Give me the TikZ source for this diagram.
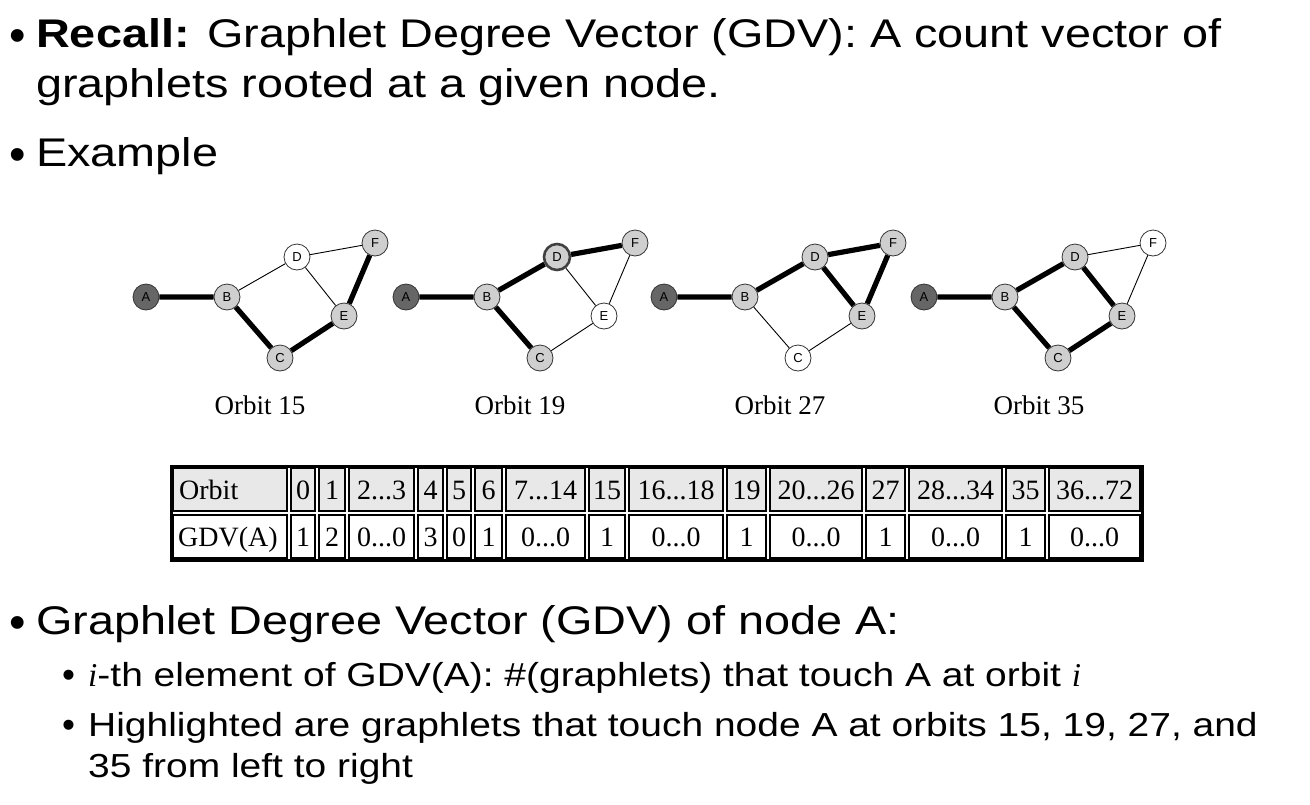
\documentclass[tikz,border=0pt]{standalone}
\usepackage{fontspec}
\setmainfont{Liberation Sans}[FakeStretch=1.17]
\newfontfamily\tabfont{Liberation Serif}
\newfontfamily\gfont{Liberation Sans}
\newcommand\mydots{...}
\newcommand\myi{{\tabfont\itshape i}}
\begin{document}
\begin{tikzpicture}[x=1pt,y=-1pt,
  txt/.style={anchor=base west,inner sep=0pt,font=\fontsize{40}{48}\selectfont},
  subtxt/.style={anchor=base west,inner sep=0pt,font=\fontsize{33.3}{40}\selectfont},
  bul/.style={anchor=base west,inner sep=0pt,font=\gfont\fontsize{47}{47}\selectfont},
  sbul/.style={anchor=base west,inner sep=0pt,font=\gfont\fontsize{37}{37}\selectfont},
  gn/.style={circle,draw=black!80,line width=0.8pt,minimum size=26pt,inner sep=0pt,font=\gfont\fontsize{13}{13}\selectfont},
  dk/.style={gn,fill=black!60},
  lt/.style={gn,fill=black!19},
  wt/.style={gn,fill=white},
  hl/.style={line width=2.6pt,draw=black!75},
  thk/.style={line width=5.2pt},
  thn/.style={line width=0.9pt},
  olab/.style={font=\tabfont\fontsize{27}{27}\selectfont,inner sep=0pt},
  cellt/.style={font=\tabfont\fontsize{28}{28}\selectfont,inner sep=0pt,anchor=base}
]
\useasboundingbox (0,0) rectangle (1310,804);
% ---------- text
\node[bul] (b1) at (9,51) {•};
\node[txt] (t1) at (36,47) {\textbf{Recall:} Graphlet Degree Vector (GDV): A count vector of};
\node[txt] (t2) at (36,97) {graphlets rooted at a given node.};
\node[bul] (b2) at (9,170) {•};
\node[txt] (t3) at (36,166) {Example};
\node[bul] (b3) at (9,638) {•};
\node[txt] (t4) at (36,634) {Graphlet Degree Vector (GDV) of node A:};
\node[sbul] (b4) at (62,687) {•};
\node[subtxt] (t5) at (88,686) {\myi-th element of GDV(A): \#(graphlets) that touch A at orbit \myi};
\node[sbul] (b5) at (62,737) {•};
\node[subtxt] (t6) at (88,736) {Highlighted are graphlets that touch node A at orbits 15, 19, 27, and};
\node[subtxt] (t7) at (88,777) {35 from left to right};
% ---------- graph 1
\begin{scope}[shift={(0,0)}]
\node[dk] (a1) at (146,297) {A};
\node[lt] (bb1) at (227,297) {B};
\node[lt] (c1) at (280,358) {C};
\node[wt] (d1) at (297,257) {D};
\node[lt] (e1) at (344,316) {E};
\node[lt] (f1) at (375,243) {F};
\end{scope}
% ---------- graph 2
\begin{scope}[shift={(260,0)}]
\node[dk] (a2) at (146,297) {A};
\node[lt] (bb2) at (227,297) {B};
\node[lt] (c2) at (280,358) {C};
\node[lt,hl] (d2) at (297,257) {D};
\node[wt] (e2) at (344,316) {E};
\node[lt] (f2) at (375,243) {F};
\end{scope}
% ---------- graph 3
\begin{scope}[shift={(518,0)}]
\node[dk] (a3) at (146,297) {A};
\node[lt] (bb3) at (227,297) {B};
\node[wt] (c3) at (280,358) {C};
\node[lt] (d3) at (297,257) {D};
\node[lt] (e3) at (344,316) {E};
\node[lt] (f3) at (375,243) {F};
\end{scope}
% ---------- graph 4
\begin{scope}[shift={(778,0)}]
\node[dk] (a4) at (146,297) {A};
\node[lt] (bb4) at (227,297) {B};
\node[lt] (c4) at (280,358) {C};
\node[lt] (d4) at (297,257) {D};
\node[lt] (e4) at (344,316) {E};
\node[wt] (f4) at (375,243) {F};
\end{scope}
% edges
\draw[thk] (a1)--(bb1) (bb1)--(c1) (c1)--(e1) (e1)--(f1);
\draw[thn] (bb1)--(d1) (d1)--(f1) (d1)--(e1);
\draw[thk] (a2)--(bb2) (bb2)--(d2) (bb2)--(c2) (d2)--(f2);
\draw[thn] (d2)--(e2) (e2)--(f2) (c2)--(e2);
\draw[thk] (a3)--(bb3) (bb3)--(d3) (d3)--(f3) (d3)--(e3) (e3)--(f3);
\draw[thn] (bb3)--(c3) (c3)--(e3);
\draw[thk] (a4)--(bb4) (bb4)--(d4) (d4)--(e4) (bb4)--(c4) (c4)--(e4);
\draw[thn] (d4)--(f4) (e4)--(f4);
% orbit labels
\node[olab] (o1) at (260,405) {Orbit 15};
\node[olab] (o2) at (520,405) {Orbit 19};
\node[olab] (o3) at (780,405) {Orbit 27};
\node[olab] (o4) at (1039,405) {Orbit 35};
% ---------- table
\draw[line width=3pt] (171,466) rectangle (1142,560);
\foreach \l/\r in {171/289,289/317,317/347,347/416,416/445,445/473,473/504,504/587,587/627,627/725,725/768,768/864,864/907,907/1004,1004/1047,1047/1142}{
  \draw[line width=1.8pt,fill=black!9] (\l+2,468) rectangle (\r-2,511);
  \draw[line width=1.8pt,fill=white] (\l+2,515) rectangle (\r-2,558);
}
\node[cellt,anchor=base west] (h0) at (179,499) {Orbit};
\node[cellt,anchor=base west] (r0) at (178,546) {GDV(A)};
\foreach \l/\r/\h/\v [count=\k] in {289/317/0/1,317/347/1/2,347/416/2\mydots3/0\mydots0,416/445/4/3,445/473/5/0,473/504/6/1,504/587/7\mydots14/0\mydots0,587/627/15/1,627/725/16\mydots18/0\mydots0,725/768/19/1,768/864/20\mydots26/0\mydots0,864/907/27/1,907/1004/28\mydots34/0\mydots0,1004/1047/35/1,1047/1142/36\mydots72/0\mydots0}{
  \node[cellt] (h\k) at ({(\l+\r)/2},499) {\h};
  \node[cellt] (r\k) at ({(\l+\r)/2},546) {\v};
}
\end{tikzpicture}
\end{document}
